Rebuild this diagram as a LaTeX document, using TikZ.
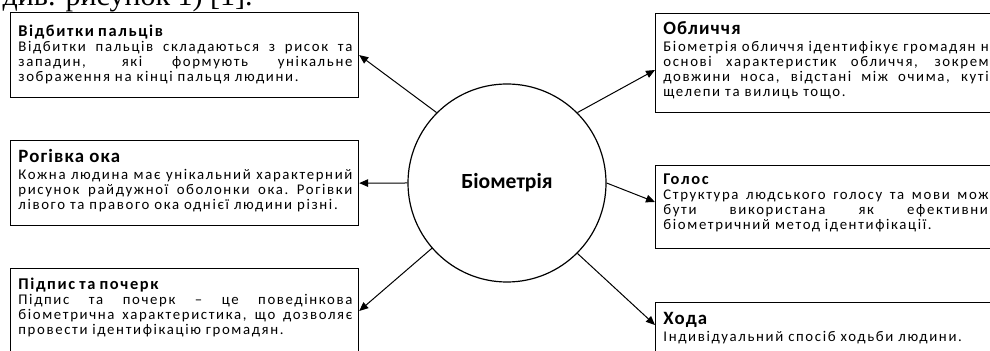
\documentclass[tikz,border=0pt]{standalone}
\usepackage{fontspec}
\setmainfont{Carlito}
\newfontfamily\bodyfont[LetterSpace=11]{Carlito}
\newfontfamily\titlefont[LetterSpace=6]{Carlito}
\newfontfamily\smtitlefont[LetterSpace=10]{Carlito}
\newfontfamily\pageserif{Liberation Serif}
\usetikzlibrary{arrows.meta,calc}
\tikzset{
  frame/.style={draw=black, line width=0.6pt, anchor=north west, inner sep=0pt, minimum width=174pt},
  txt/.style={anchor=base west, inner sep=0pt, text width=167pt, align=justify,
    font=\bodyfont\fontsize{7.4}{7.5}\selectfont},
  arr/.style={-{Triangle[length=4.5pt,width=3.8pt]}, line width=0.5pt},
}
\newcommand{\jline}[1]{\par\hbox to 167pt{\spaceskip=.3333em plus 2em minus .05em\xspaceskip=\spaceskip #1}}
\newcommand{\lastline}[1]{\par\hbox{\spaceskip=.3333em\xspaceskip=.3333em #1}}
\newcommand{\smtitle}[1]{\hbox{\smtitlefont\fontsize{8.2}{8.2}\selectfont\bfseries\spaceskip=.25em #1}\par}
\newcommand{\bigtitle}[1]{\hbox{\titlefont\fontsize{9.4}{9.4}\selectfont\bfseries #1}\par\vskip 1pt}
\begin{document}
\begin{tikzpicture}[x=0.5pt,y=-0.5pt]
\useasboundingbox (0,0) rectangle (990,351);
\clip (0,0) rectangle (990,351);
% fragment of page text above
\node[anchor=base east, inner sep=0pt, font=\pageserif\fontsize{15}{18}\selectfont] (pagetext) at (253,6) {див. рисунок 1) [1].};
% centre
\node[draw, circle, line width=0.6pt, minimum size=99pt, inner sep=0pt, font=\bfseries\fontsize{10.8}{12}\selectfont] (c) at (507,183) {Біометрія};
% left boxes
\node[frame, minimum height=42.5pt] (b1) at (10,12) {};
\node[txt] (t1) at (18,37) {\smtitle{Відбитки пальців}\jline{Відбитки пальців складаються з рисок та}\jline{западин, які формують унікальне}\lastline{зображення на кінці пальця людини.}};
\node[frame, minimum height=42.5pt] (b2) at (10,140) {};
\node[txt] (t2) at (18,163) {\bigtitle{Рогівка ока}\jline{Кожна людина має унікальний характерний}\jline{рисунок райдужної оболонки ока. Рогівки}\lastline{лівого та правого ока однієї людини різні.}};
\node[frame, minimum height=45pt] (b3) at (10,268) {};
\node[txt] (t3) at (18,290) {\smtitle{Підпис та почерк}\jline{Підпис та почерк – це поведінкова}\jline{біометрична характеристика, що дозволяє}\lastline{провести ідентифікацію громадян.}};
% right boxes
\node[frame, minimum height=49.5pt] (b4) at (655,13) {};
\node[txt] (t4) at (663,35) {\bigtitle{Обличчя}\jline{Біометрія обличчя ідентифікує громадян на}\jline{основі характеристик обличчя, зокрема}\jline{довжини носа, відстані між очима, кутів}\lastline{щелепи та вилиць тощо.}};
\node[frame, minimum height=41.5pt] (b5) at (655,165) {};
\node[txt] (t5) at (663,185) {\smtitle{Голос}\jline{Структура людського голосу та мови може}\jline{бути використана як ефективний}\lastline{біометричний метод ідентифікації.}};
\node[frame, minimum height=30pt] (b6) at (655,302) {};
\node[txt] (t6) at (663,325) {\bigtitle{Хода}\lastline{Індивідуальний спосіб ходьби людини.}};
% connectors
\draw[arr] (c.135) -- (b1.east);
\draw[arr] (c.180) -- (b2.east);
\draw[arr] (c.221) -- ($(b3.north east)+(0,43)$);
\draw[arr] (c.45) -- ($(b4.north west)+(0,57)$);
\draw[arr] (c.0) -- ($(b5.north west)+(0,37)$);
\draw[arr] (c.-45) -- ($(b6.north west)+(0,23)$);
\end{tikzpicture}
\end{document}
